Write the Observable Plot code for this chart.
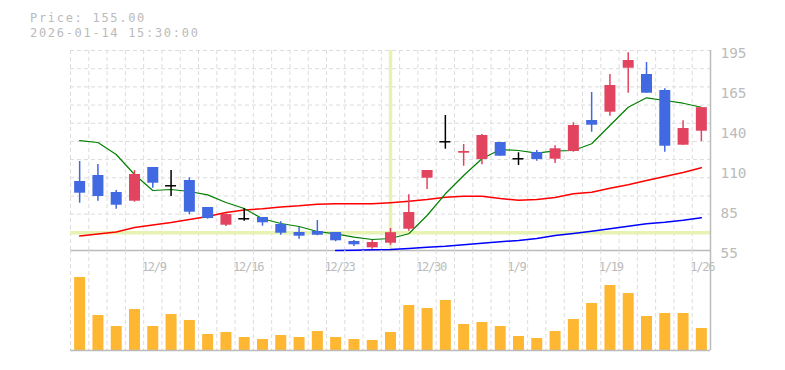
<!DOCTYPE html>
<html><head><meta charset="utf-8">
<script src="https://cdn.jsdelivr.net/npm/d3@7"></script>
<script src="https://cdn.jsdelivr.net/npm/@observablehq/plot@0.6"></script>
<style>
body{margin:0;background:#fff;width:785px;height:370px;position:relative;overflow:hidden}
#title{position:absolute;left:30px;top:11.2px;font:12px/14.6px "DejaVu Sans Mono",monospace;letter-spacing:1.7px;color:#bbb;white-space:pre}
#price{position:absolute;left:0;top:0}
#vol{position:absolute;left:0;top:250px}
#vol text{letter-spacing:-1.2px}
</style></head><body>
<div id="price"></div><div id="vol"></div>
<div id="title"></div>
<script>
const titleLines = ["Price: 155.00", "2026-01-14 15:30:00"];
const dates = ["12/3","12/4","12/5","12/8","12/9","12/10","12/11","12/12","12/15","12/16",
  "12/17","12/18","12/19","12/22","12/23","12/24","12/25","12/26","12/29","12/30",
  "1/5","1/6","1/7","1/8","1/9","1/13","1/14","1/15","1/16","1/19",
  "1/20","1/21","1/22","1/23","1/26"];
const opens  = [103.3,107.5,95.6,89.5,113.1,100.3,104.0,85.1,72.7,77.2,
  78.1,73.2,67.6,68.3,67.6,61.3,56.9,60.1,69.9,105.6,
  131.1,123.1,118.7,130.6,119.2,123.6,118.9,124.3,146.0,151.8,
  182.6,178.2,167.0,128.7,138.5];
const highs  = [117.3,115.2,97.0,111.0,113.1,111.0,105.9,85.1,80.7,84.2,
  78.1,75.1,71.1,76.0,67.6,62.0,62.0,70.4,94.0,111.0,
  149.5,129.2,136.2,130.6,123.4,125.0,128.3,144.4,165.6,178.2,
  193.4,186.6,168.2,145.8,155.1];
const lows   = [88.1,89.5,83.9,88.8,98.6,92.8,80.0,76.9,71.8,75.5,
  72.0,65.7,62.9,65.3,61.1,57.8,55.9,58.7,68.5,97.7,
  125.9,114.0,115.0,121.0,114.5,117.5,115.9,123.8,137.8,149.0,
  165.1,165.1,123.8,128.7,131.3];
const closes = [95.1,92.8,86.7,108.2,102.1,100.3,81.8,77.4,80.2,77.2,
  74.4,67.1,65.0,65.7,61.8,59.0,60.6,67.5,81.6,111.0,
  131.1,124.3,135.5,121.0,119.2,118.7,126.2,142.5,142.7,170.5,
  188.0,165.1,128.0,140.4,155.0];
const maShort = [131.9,130.6,122.2,108.2,97.0,97.7,96.3,93.9,88.6,84.4,
  77.2,73.9,71.8,68.3,66.7,64.3,62.7,63.4,66.7,79.5,
  94.7,107.5,119.2,125.7,125.0,123.1,124.7,125.0,129.7,142.5,
  155.3,161.9,160.0,158.1,155.3];
const maMid = [65.2,66.6,68.0,71.1,72.9,74.6,76.7,78.8,81.6,83.4,
  84.2,85.5,86.3,87.4,87.7,87.7,87.7,88.5,89.5,90.7,
  92.3,93.0,93.0,91.4,90.2,90.7,92.1,94.7,95.8,98.6,
  101.0,104.0,106.8,109.6,112.9];
const maLong = [null,null,null,null,null,null,null,null,null,null,
  null,null,null,null,55.0,55.2,55.5,55.7,56.4,57.3,
  58.0,59.0,60.1,61.1,62.0,63.4,65.5,66.9,68.5,70.2,
  71.9,73.8,74.8,76.2,77.9];
const volumes = [71,33,22,39,22,34,28,14,16,11,
  9,13,11,17,11,9,8,16,43,40,
  48,24,26,22,12,10,17,29,45,63,
  55,32,35,35,20];
const xLabelIdx = [4,9,14,19,24,29,34];
const yTickValues = [55,83,111,139,167,195];
const yTickLabels = ["55","85","110","140","165","195"];
const crossIdx = 17;

const colUp = "#e2445f", colDown = "#4169e1", colFlat = "#000";
const gridStroke = "#dcdcdc", dash = "4,3", frameStroke = "#bbb", hl = "#e6f3b2";

document.getElementById("title").textContent = titleLines.join("\n");

const candles = dates.map((d, i) => ({
  i, date: d, o: opens[i], h: highs[i], l: lows[i], c: closes[i],
  color: closes[i] > opens[i] ? colUp : closes[i] < opens[i] ? colDown : colFlat
}));
const n = dates.length;
const xDomain = [-0.5, n - 0.5];
const gridXVals = d3.range(n + 1).map(k => k - 0.5);
const yMin = 55, yMax = 195;
const gridYVals = d3.range(12).map(k => yMin + k * (yMax - yMin) / 11);
const idx = d3.range(n);
const baseStyle = {fontFamily: "DejaVu Sans Mono, monospace", color: "#bbb", background: "transparent", overflow: "visible"};

const price = Plot.plot({
  width: 785, height: 260, marginLeft: 70, marginRight: 75, marginTop: 50, marginBottom: 10,
  x: {domain: xDomain, axis: null},
  y: {domain: [yMin, yMax], axis: null},
  style: baseStyle,
  marks: [
    Plot.ruleY(gridYVals, {stroke: gridStroke, strokeDasharray: dash}),
    Plot.ruleX(gridXVals, {stroke: gridStroke, strokeDasharray: dash}),
    Plot.ruleX([crossIdx], {stroke: hl, strokeWidth: 3.5}),
    Plot.ruleY([closes[crossIdx]], {stroke: hl, strokeWidth: 3.5}),
    Plot.ruleY([yMin], {stroke: frameStroke, strokeWidth: 1.5}),
    Plot.ruleX([xDomain[1]], {stroke: frameStroke, strokeWidth: 1.5}),
    Plot.line(idx, {x: d => d, y: d => maLong[d], stroke: "#0000ff", strokeWidth: 1.5}),
    Plot.line(idx, {x: d => d, y: d => maMid[d], stroke: "#ff0000", strokeWidth: 1.5}),
    Plot.line(idx, {x: d => d, y: d => maShort[d], stroke: "#008000", strokeWidth: 1.2}),
    Plot.ruleX(candles, {x: "i", y1: "l", y2: "h", stroke: "color", strokeWidth: 1.5}),
    Plot.ruleX(candles.filter(d => d.o !== d.c), {x: "i", y1: "o", y2: "c", stroke: "color", strokeWidth: 11}),
    Plot.ruleY(candles.filter(d => d.o === d.c), {x1: d => d.i - 0.3, x2: d => d.i + 0.3, y: "c", stroke: colFlat, strokeWidth: 1.5}),
    Plot.axisY({anchor: "right", ticks: yTickValues,
      tickFormat: d => yTickLabels[yTickValues.indexOf(d)],
      tickSize: 0, tickPadding: 10, fontSize: 14.4, dy: 3, textAnchor: "start", color: "#bbb"})
  ]
});
document.getElementById("price").append(price);

const vol = Plot.plot({
  width: 785, height: 110, marginLeft: 70, marginRight: 75, marginTop: 0, marginBottom: 10,
  x: {domain: xDomain, axis: null},
  y: {domain: [0, 100], axis: null},
  style: baseStyle,
  marks: [
    Plot.ruleX(gridXVals, {stroke: gridStroke, strokeDasharray: dash}),
    Plot.text(xLabelIdx, {x: d => d - 0.5, text: d => dates[d], frameAnchor: "top", dy: 12,
      dx: -2, textAnchor: "start", fontSize: 12, fill: "#bbb"}),
    Plot.ruleX(idx, {x: d => d, y1: 0, y2: d => volumes[d], stroke: "#fdb733", strokeWidth: 11, insetBottom: 2}),
    Plot.ruleY([0], {stroke: frameStroke, strokeWidth: 1.5}),
    Plot.ruleX([xDomain[1]], {stroke: frameStroke, strokeWidth: 1.5})
  ]
});
document.getElementById("vol").append(vol);
</script>
</body></html>
